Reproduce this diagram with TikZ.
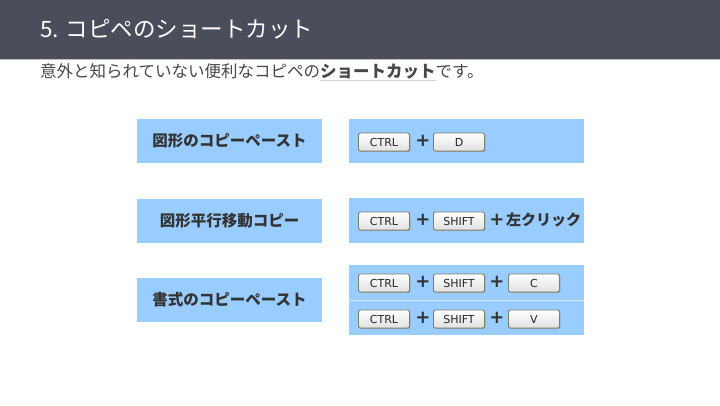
\documentclass[tikz,border=0pt]{standalone}
\usepackage{fontspec}
\newfontfamily\jp{Noto Sans CJK JP}
\newfontfamily\keyfont{DejaVu Sans}
\definecolor{hdr}{HTML}{4A4E5A}
\definecolor{boxblue}{HTML}{99CCFF}
\definecolor{txt}{HTML}{333333}
\definecolor{keyedge}{HTML}{7A806A}
\usetikzlibrary{shadows}
\tikzset{
  x=1pt,y=-1pt,
  lbox/.style={fill=boxblue,draw=none,minimum width=185pt,minimum height=44pt,inner sep=0pt,
    font=\jp\bfseries\fontsize{15.5}{18}\selectfont,text=txt},
  rbox/.style={fill=boxblue,draw=none,minimum width=235pt,inner sep=0pt,anchor=north west},
  keycap/.style={draw=keyedge,line width=0.9pt,rounded corners=2pt,top color=white,bottom color=black!12,
    minimum width=51pt,minimum height=18pt,inner sep=0pt,font=\keyfont\fontsize{11}{12}\selectfont,text=black!85,
    drop shadow={shadow xshift=0.8pt,shadow yshift=-0.8pt,fill=black!45,opacity=0.8}},
  plus/.style={font=\keyfont\bfseries\fontsize{18}{18}\selectfont,text=txt,inner sep=0pt},
}
\begin{document}
\begin{tikzpicture}
\useasboundingbox (0,0) rectangle (720,405);
\fill[white] (0,0) rectangle (720,405);
\fill[hdr] (0,0) rectangle (720,59);
\draw[black!25,line width=0.8pt] (0,59.5) -- (720,59.5);
\node[anchor=west,text=white,inner sep=0pt,font=\jp\fontsize{22.5}{26}\selectfont] (title) at (40,29) {5. コピペのショートカット};
\node[anchor=west,text=black!72,inner sep=0pt,font=\jp\fontsize{16.5}{18}\selectfont] (sub) at (40,72)
  {意外と知られていない便利なコピペの{\color{black!18}\underline{\color{black!72}\bfseries ショートカット}}です。};
% left boxes
\node[lbox] (l1) at (229.5,141) {図形のコピーペースト};
\node[lbox] (l2) at (229.5,220.5) {図形平行移動コピー};
\node[lbox] (l3) at (229.5,299.5) {書式のコピーペースト};
% right boxes
\node[rbox,minimum height=44pt] (r1) at (349,119) {};
\node[rbox,minimum height=45pt] (r2) at (349,198) {};
\node[rbox,minimum height=35pt] (r3) at (349,265) {};
\node[rbox,minimum height=35pt] (r4) at (349,300) {};
\draw[white,opacity=0.6,line width=0.7pt] (r3.south west) -- (r3.south east);
% row 1
\node[keycap] (k11) at (384,142) {CTRL};
\node[plus] (p11) at (423,141) {+};
\node[keycap] (k12) at (459,142) {D};
% row 2
\node[keycap] (k21) at (384,221) {CTRL};
\node[plus] (p21) at (423,220) {+};
\node[keycap] (k22) at (459,221) {SHIFT};
\node[plus] (p22) at (497,220) {+};
\node[anchor=west,inner sep=0pt,text=txt,font=\jp\bfseries\fontsize{15}{17}\selectfont] (click) at (506,220) {左クリック};
% row 3
\node[keycap] (k31) at (384,283) {CTRL};
\node[plus] (p31) at (423,282) {+};
\node[keycap] (k32) at (459,283) {SHIFT};
\node[plus] (p32) at (497,282) {+};
\node[keycap] (k33) at (534,283) {C};
% row 4
\node[keycap] (k41) at (384,319) {CTRL};
\node[plus] (p41) at (423,318) {+};
\node[keycap] (k42) at (459,319) {SHIFT};
\node[plus] (p42) at (497,318) {+};
\node[keycap] (k43) at (534,319) {V};
\end{tikzpicture}
\end{document}
